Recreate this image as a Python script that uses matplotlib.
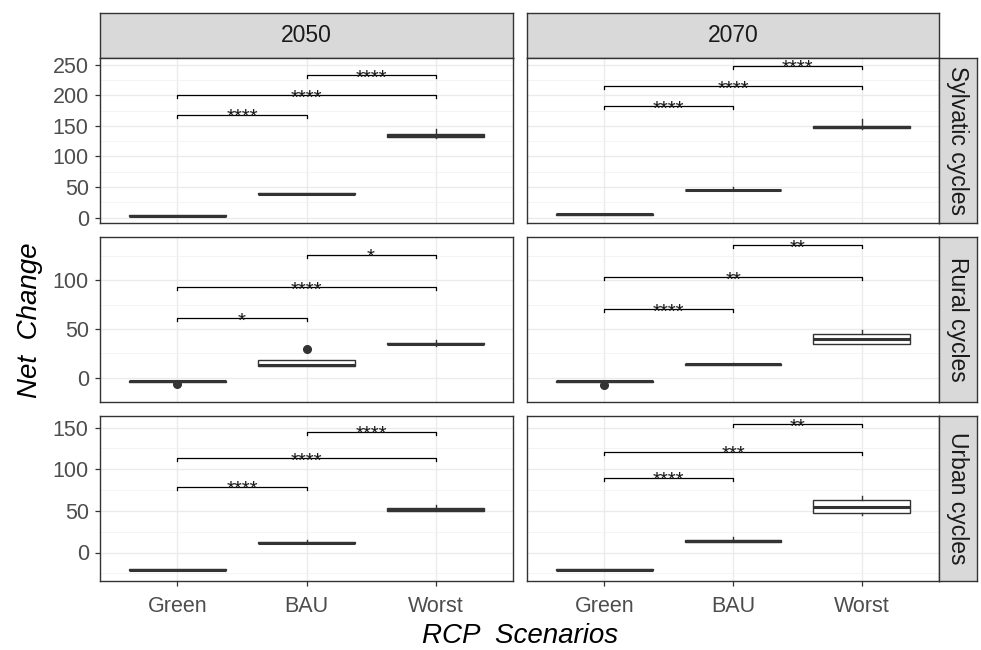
"""
Net change by RCP scenario, faceted by year and transmission cycle
"""

import matplotlib

matplotlib.use("Agg")
import matplotlib.pyplot as plt

plt.rcParams["font.family"] = ["Liberation Sans", "DejaVu Sans"]

W, H = 981, 650

scenarios = ["Green", "BAU", "Worst"]
years = ["2050", "2070"]
cycles = ["Sylvatic cycles", "Rural cycles", "Urban cycles"]

# box statistics: rows = cycles, columns = scenarios
med_2050 = [[3, 39, 134], [-3.5, 13, 35], [-20.5, 12, 51]]
q1_2050 = [[2.5, 38, 132], [-4, 12, 34], [-21.3, 11, 49.5]]
q3_2050 = [[3.5, 40, 136], [-3, 18, 36], [-19.8, 13, 53]]
lo_2050 = [[2.5, 38, 130], [-4, 12, 32], [-21.3, 11, 49.5]]
hi_2050 = [[3.5, 40, 145], [-3, 18, 39], [-19.8, 15.5, 57]]
fliers_2050 = [[[], [], []], [[-7], [29.7], []], [[], [], []]]

med_2070 = [[5.5, 45, 148], [-3.5, 13.5, 40], [-20.5, 13.5, 55]]
q1_2070 = [[5, 44.5, 146], [-4, 12.8, 34], [-21.3, 12.5, 47]]
q3_2070 = [[6, 45.5, 150], [-3, 14.2, 45], [-19.8, 14.5, 63]]
lo_2070 = [[5, 44.5, 145], [-4, 12.8, 34], [-21.3, 12.5, 45.5]]
hi_2070 = [[6, 50, 162], [-3, 15, 49], [-19.8, 18.5, 67.5]]
fliers_2070 = [[[], [], []], [[-7.5], [], []], [[], [], []]]

# significance brackets: Green-BAU, Green-Worst, BAU-Worst
pairs = [(0, 1), (0, 2), (1, 2)]
bracket_2050 = [[168, 200, 233], [61, 93, 126], [79, 113, 145]]
bracket_2070 = [[182, 215, 248], [70, 103, 136], [89.5, 121, 154]]
stars_2050 = [["****", "****", "****"], ["*", "****", "*"], ["****", "****", "****"]]
stars_2070 = [["****", "****", "****"], ["****", "**", "**"], ["****", "***", "**"]]

# y scale per row
row_ylim = [(-8.8, 261), (-14.7, 144.3), (-34.2, 163.8)]
row_major = [[0, 50, 100, 150, 200, 250], [0, 50, 100], [0, 50, 100, 150]]
row_minor = [[25, 75, 125, 175, 225], [-25, 25, 75, 125], [-25, 25, 75, 125]]

year_data = {
    "2050": (med_2050, q1_2050, q3_2050, lo_2050, hi_2050, fliers_2050, bracket_2050, stars_2050),
    "2070": (med_2070, q1_2070, q3_2070, lo_2070, hi_2070, fliers_2070, bracket_2070, stars_2070),
}

col_x = [(100, 513), (527, 939)]
row_y = [(58, 223), (237, 402), (416, 581)]
DARK = "#333333"


def rect(x0, y0, x1, y1):
    return [x0 / W, 1 - y1 / H, (x1 - x0) / W, (y1 - y0) / H]


def strip(box, label, rotation=0):
    sax = fig.add_axes(rect(*box))
    sax.set_facecolor("#D9D9D9")
    sax.set_xticks([])
    sax.set_yticks([])
    for s in sax.spines.values():
        s.set_color(DARK)
        s.set_linewidth(1.0)
    sax.text(0.5, 0.5, label, ha="center", va="center", rotation=rotation,
             fontsize=16.5, color="#1A1A1A", transform=sax.transAxes)


fig = plt.figure(figsize=(W / 100, H / 100), dpi=100)

for c, year in enumerate(years):
    med, q1, q3, lo, hi, fl, brk, lab = year_data[year]
    x0, x1 = col_x[c]

    strip((x0, 13, x1, 58), year)

    for r, cycle in enumerate(cycles):
        y0, y1 = row_y[r]
        ax = fig.add_axes(rect(x0, y0, x1, y1))
        ax.set_xlim(0.4, 3.6)
        ax.set_ylim(*row_ylim[r])

        stats = []
        for i in range(3):
            stats.append(dict(med=med[r][i], q1=q1[r][i], q3=q3[r][i],
                              whislo=lo[r][i], whishi=hi[r][i], fliers=fl[r][i]))
        ax.bxp(stats, positions=[1, 2, 3], widths=0.75, patch_artist=True,
               showcaps=False,
               boxprops=dict(facecolor="white", edgecolor=DARK, linewidth=1.0),
               medianprops=dict(color=DARK, linewidth=2.2, solid_capstyle="butt"),
               whiskerprops=dict(color=DARK, linewidth=1.0),
               flierprops=dict(marker="o", markerfacecolor=DARK, markeredgecolor=DARK,
                               markersize=5.5))

        # brackets with stars
        span = row_ylim[r][1] - row_ylim[r][0]
        tip = 0.018 * span
        for k, (a, b) in enumerate(pairs):
            yb = brk[r][k]
            xa, xb = a + 1, b + 1
            ax.plot([xa, xa, xb, xb], [yb - tip, yb, yb, yb - tip], color="black",
                    lw=0.9, zorder=4)
            ax.annotate(lab[r][k], xy=((xa + xb) / 2, yb), xytext=(0, -6.0),
                        textcoords="offset points", ha="center", va="baseline",
                        fontsize=14.5, color="#1A1A1A", zorder=5)

        # grid and axes styling
        ax.set_yticks(row_major[r])
        ax.set_yticks(row_minor[r], minor=True)
        ax.set_xticks([1, 2, 3])
        ax.grid(True, which="major", color="#EBEBEB", lw=1.0, zorder=0)
        ax.grid(True, which="minor", axis="y", color="#F2F2F2", lw=0.6, zorder=0)
        ax.set_axisbelow(True)
        ax.tick_params(which="minor", length=0)
        ax.tick_params(which="major", length=3.6, width=0.9, color=DARK,
                       labelsize=15.5, labelcolor="#4D4D4D")
        ax.tick_params(axis="y", pad=4.5)
        ax.tick_params(axis="x", pad=7)
        for s in ax.spines.values():
            s.set_color(DARK)
            s.set_linewidth(1.0)

        if r == 2:
            ax.set_xticklabels(scenarios)
        else:
            ax.tick_params(axis="x", length=0, labelbottom=False)
        if c == 1:
            ax.tick_params(axis="y", length=0, labelleft=False)
            strip((939, y0, 977, y1), cycle, rotation=-90)

fig.text(30 / W, 1 - 320 / H, "Net  Change", rotation=90, ha="center", va="center",
         fontsize=20, style="italic", color="black")
fig.text(520 / W, 1 - 636 / H, "RCP  Scenarios", ha="center", va="center",
         fontsize=20, style="italic", color="black")

plt.savefig("out.png", dpi=100)
plt.close()
